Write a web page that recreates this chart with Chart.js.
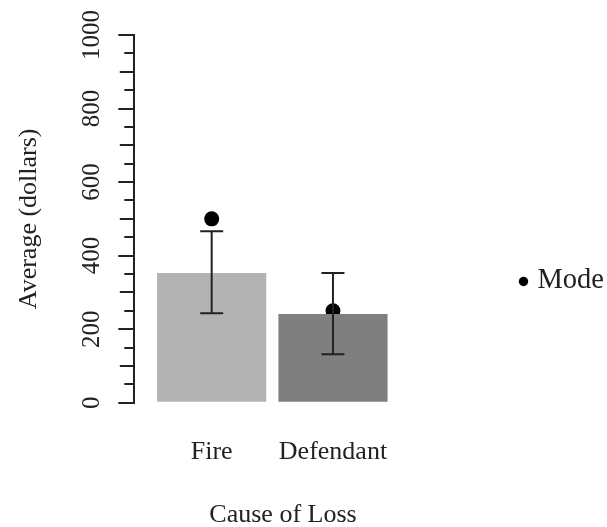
<!DOCTYPE html>
<html>
<head>
<meta charset="utf-8">
<script src="https://cdn.jsdelivr.net/npm/chart.js@4.4.1/dist/chart.umd.min.js"></script>
<style>
  html, body { margin: 0; padding: 0; background: #fff; }
  #chart { display: block; }
</style>
</head>
<body>
<canvas id="chart" width="607" height="527"></canvas>
<script>
const categories = ['Fire', 'Defendant'];
const averages = [353, 241];
const lowerErr = [243, 132];
const upperErr = [466, 353];
const modes = [500, 250];
const yTicks = [0, 200, 400, 600, 800, 1000];
const midTicks = [100, 300, 500, 700, 900];
const smallTicks = [50, 150, 250, 350, 450, 550, 650, 750, 850, 950];

const ink = '#222';
const serif = "'Liberation Serif', 'Times New Roman', serif";

// error bars, in-between y ticks and the one-entry legend
const extras = {
  id: 'extras',
  afterDatasetDraw(chart, args) {
    if (args.index !== 0) return;
    const { ctx, scales: { x, y } } = chart;
    ctx.save();
    ctx.strokeStyle = ink;
    ctx.lineWidth = 2;
    categories.forEach((c, i) => {
      const px = x.getPixelForValue(i + 1);
      const top = y.getPixelForValue(upperErr[i]);
      const bot = y.getPixelForValue(lowerErr[i]);
      ctx.beginPath();
      ctx.moveTo(px, top); ctx.lineTo(px, bot);
      ctx.moveTo(px - 11.5, top); ctx.lineTo(px + 11.5, top);
      ctx.moveTo(px - 11.5, bot); ctx.lineTo(px + 11.5, bot);
      ctx.stroke();
    });
    ctx.restore();
  },
  afterDraw(chart) {
    const { ctx, chartArea, scales: { y } } = chart;
    const ax = chartArea.left - 1;
    ctx.save();
    ctx.strokeStyle = ink;
    ctx.lineWidth = 2;
    ctx.beginPath();
    midTicks.forEach(v => {
      const py = Math.round(y.getPixelForValue(v));
      ctx.moveTo(ax - 13.5, py); ctx.lineTo(ax, py);
    });
    smallTicks.forEach(v => {
      const py = Math.round(y.getPixelForValue(v));
      ctx.moveTo(ax - 9, py); ctx.lineTo(ax, py);
    });
    ctx.stroke();

    // legend entry for the mode points
    const ds = chart.data.datasets[1];
    const ly = (chartArea.top + chart.height) / 2;
    const lx = chartArea.right + 91.8;
    ctx.fillStyle = ds.backgroundColor;
    ctx.beginPath();
    ctx.arc(lx, ly + 0.5, 4.7, 0, Math.PI * 2);
    ctx.fill();
    ctx.fillStyle = ink;
    ctx.font = '28.5px ' + serif;
    ctx.textBaseline = 'middle';
    ctx.fillText(ds.label, lx + 14, ly);
    ctx.restore();
  }
};

new Chart(document.getElementById('chart'), {
  data: {
    datasets: [{
      type: 'bar',
      label: 'Average',
      data: categories.map((c, i) => ({ x: i + 1, y: averages[i] })),
      backgroundColor: ['#b3b3b3', '#7f7f7f'],
      borderWidth: 0,
      barPercentage: 0.9,
      categoryPercentage: 1
    }, {
      type: 'scatter',
      label: 'Mode',
      data: categories.map((c, i) => ({ x: i + 1, y: modes[i] })),
      backgroundColor: '#000',
      borderWidth: 0,
      pointRadius: 7.5,
      pointStyle: 'circle'
    }]
  },
  options: {
    responsive: false,
    animation: false,
    layout: { padding: { top: 35, right: 175.3, bottom: 0, left: 0 } },
    scales: {
      x: {
        type: 'linear',
        offset: false,
        min: 0.362,
        max: 2.814,
        afterBuildTicks: (scale) => { scale.ticks = categories.map((c, i) => ({ value: i + 1 })); },
        grid: { display: false, drawTicks: false },
        border: { display: false },
        ticks: {
          callback: (v) => categories[v - 1],
          font: { family: serif, size: 26, lineHeight: 1 },
          color: ink,
          padding: 36.6,
          autoSkip: false,
          maxRotation: 0
        },
        title: {
          display: true,
          text: 'Cause of Loss',
          font: { family: serif, size: 26, lineHeight: 0.923 },
          color: ink,
          padding: { top: 1.1, bottom: 0 }
        }
      },
      y: {
        min: 0,
        max: 1000,
        afterBuildTicks: (scale) => { scale.ticks = yTicks.map(v => ({ value: v })); },
        grid: { drawOnChartArea: false, drawTicks: true, tickLength: 16, color: ink, lineWidth: 2 },
        border: { display: true, color: ink, width: 2 },
        ticks: {
          callback: (v) => String(v),
          font: { family: serif, size: 25, lineHeight: 1.2 },
          color: ink,
          minRotation: 90,
          maxRotation: 90,
          crossAlign: 'center',
          padding: 0.5,
          autoSkip: false
        },
        title: {
          display: true,
          text: 'Average (dollars)',
          font: { family: serif, size: 26, lineHeight: 1 },
          color: ink,
          padding: { top: 16, bottom: 45.3 }
        }
      }
    },
    plugins: {
      legend: { display: false },
      tooltip: { enabled: false }
    }
  },
  plugins: [extras]
});
</script>
</body>
</html>
